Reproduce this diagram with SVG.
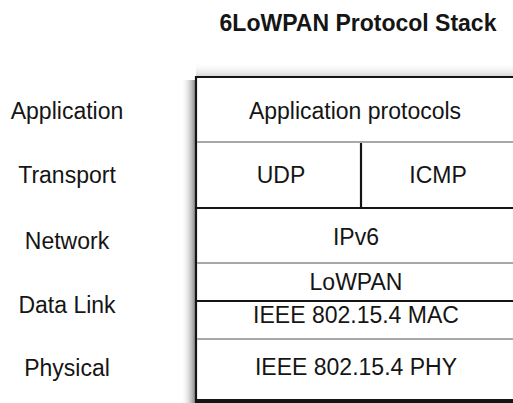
<svg xmlns="http://www.w3.org/2000/svg" width="513" height="403" viewBox="0 0 513 403">
  <defs>
    <linearGradient id="shadowL" x1="0" y1="0" x2="1" y2="0">
      <stop offset="0" stop-color="#ffffff" stop-opacity="0"/>
      <stop offset="1" stop-color="#8a8a8a" stop-opacity="1"/>
    </linearGradient>
    <linearGradient id="shadowT" x1="0" y1="0" x2="0" y2="1">
      <stop offset="0" stop-color="#ffffff" stop-opacity="0"/>
      <stop offset="1" stop-color="#d8d8d8" stop-opacity="1"/>
    </linearGradient>
  </defs>
  <style>
    text { font-family: "Liberation Sans", Arial, sans-serif; font-size: 23px; fill: #151515; text-anchor: middle; }
    .title { font-weight: bold; }
    .dark { stroke: #151515; stroke-width: 2.2; fill: none; }
    .gray { stroke: #a8a8a8; stroke-width: 2.2; fill: none; }
  </style>
  <rect width="513" height="403" fill="#ffffff"/>
  <text class="title" x="358" y="31">6LoWPAN Protocol Stack</text>

  <g id="shadows">
    <rect x="181" y="80" width="14" height="323" fill="url(#shadowL)"/>
    <rect x="196" y="62" width="317" height="14" fill="url(#shadowT)"/>
  </g>

  <g id="layer-labels">
    <text x="67" y="119">Application</text>
    <text x="67" y="183">Transport</text>
    <text x="67" y="249">Network</text>
    <text x="67" y="313">Data Link</text>
    <text x="67" y="376">Physical</text>
  </g>

  <g id="connectors">
    <line class="dark" x1="196" y1="77" x2="513" y2="77"/>
    <line class="dark" x1="196" y1="76" x2="196" y2="403"/>
    <line class="gray" x1="197" y1="142" x2="513" y2="142"/>
    <line class="dark" x1="197" y1="208" x2="513" y2="208"/>
    <line class="dark" x1="361" y1="143" x2="361" y2="208"/>
    <line class="gray" x1="197" y1="263" x2="513" y2="263"/>
    <line class="dark" x1="197" y1="301" x2="513" y2="301"/>
    <line class="gray" x1="197" y1="339" x2="513" y2="339"/>
    <rect x="195" y="399" width="318" height="4" fill="#151515"/>
  </g>

  <g id="node-application"><text x="355" y="119">Application protocols</text></g>
  <g id="node-udp"><text x="281" y="183">UDP</text></g>
  <g id="node-icmp"><text x="438" y="183">ICMP</text></g>
  <g id="node-ipv6"><text x="356" y="245">IPv6</text></g>
  <g id="node-lowpan"><text x="356" y="290">LoWPAN</text></g>
  <g id="node-mac"><text x="356" y="323">IEEE 802.15.4 MAC</text></g>
  <g id="node-phy"><text x="356" y="375">IEEE 802.15.4 PHY</text></g>
</svg>
